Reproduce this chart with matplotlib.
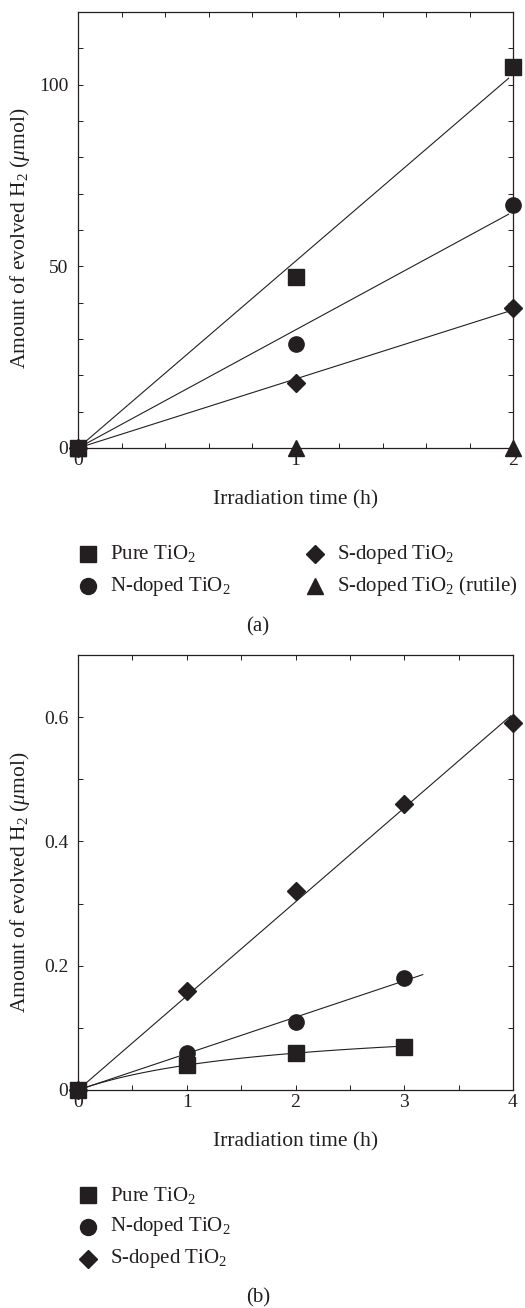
import numpy as np
import matplotlib
matplotlib.use("Agg")
import matplotlib.pyplot as plt
from matplotlib.lines import Line2D
from matplotlib.ticker import MultipleLocator

plt.rcParams['font.family'] = ['Liberation Serif', 'DejaVu Serif']
plt.rcParams['mathtext.fontset'] = 'custom'
plt.rcParams['mathtext.rm'] = 'Liberation Serif'
plt.rcParams['mathtext.it'] = 'Liberation Serif:italic'

# ---------------- data: panel (a) ----------------
time_a = [0, 1, 2]
pure_a = [0, 47, 105]
ndoped_a = [0, 28.5, 67]
sdoped_a = [0, 18, 38.5]
rutile_a = [0, 0, 0]

# ---------------- data: panel (b) ----------------
time_b = [0, 1, 2, 3, 4]
sdoped_b = [0, 0.16, 0.32, 0.46, 0.59]
time_b3 = [0, 1, 2, 3]
ndoped_b = [0, 0.06, 0.11, 0.18]
pure_b = [0, 0.04, 0.06, 0.07]

labels_a = ['Pure TiO$_2$', 'N-doped TiO$_2$', 'S-doped TiO$_2$', 'S-doped TiO$_2$ (rutile)']
labels_b = ['Pure TiO$_2$', 'N-doped TiO$_2$', 'S-doped TiO$_2$']
panel_tags = ['(a)', '(b)']

C = '#231f20'
W, H = 525, 1308
fig = plt.figure(figsize=(W / 100, H / 100), dpi=100)

TICK_FS = 14
LABEL_FS = 15.5
LEG_FS = 15


def fx(px):
    return px / W


def fy(py):
    return 1 - py / H


def origin_slope(x, y):
    x = np.asarray(x, float)
    y = np.asarray(y, float)
    return np.sum(x * y) / np.sum(x * x)


def style_axes(ax, xmaj, xmin, ymaj, ymin):
    ax.xaxis.set_major_locator(MultipleLocator(xmaj))
    ax.xaxis.set_minor_locator(MultipleLocator(xmin))
    ax.yaxis.set_major_locator(MultipleLocator(ymaj))
    ax.yaxis.set_minor_locator(MultipleLocator(ymin))
    ax.tick_params(which='both', direction='in', top=True, right=True,
                   length=3.6, width=0.7, color=C, labelsize=TICK_FS, labelcolor=C)
    ax.tick_params(axis='y', which='major', pad=7)
    ax.tick_params(axis='x', which='major', pad=3)
    for s in ax.spines.values():
        s.set_linewidth(0.9)
        s.set_color(C)


ms = dict(color=C, linestyle='none', clip_on=False, zorder=5)
YLAB = 'Amount of evolved H$_2$ ($\\mu$mol)'
XLAB = 'Irradiation time (h)'

# ---------------- panel (a) ----------------
axa = fig.add_axes([fx(78), fy(448), fx(513) - fx(78), fy(12) - fy(448)])
xs = np.linspace(0, 1.98, 50)
for ydata in (pure_a, ndoped_a, sdoped_a):
    k = origin_slope(time_a, ydata)
    axa.plot(xs, k * xs, color=C, lw=0.8, zorder=3)
axa.plot(time_a, rutile_a, marker='^', ms=11, **ms)
axa.plot(time_a, sdoped_a, marker='D', ms=9, **ms)
axa.plot(time_a, ndoped_a, marker='o', ms=11, **ms)
axa.plot(time_a, pure_a, marker='s', ms=11, **ms)
axa.set_xlim(0, 2)
axa.set_ylim(0, 120)
style_axes(axa, 1, 0.2, 50, 10)
axa.set_xlabel(XLAB, fontsize=LABEL_FS, color=C)
axa.set_ylabel(YLAB, fontsize=LABEL_FS, color=C)
axa.xaxis.set_label_coords(0.5, -0.098)
axa.yaxis.set_label_coords(-0.105, 0.482)

# legend (a)
leg_a = [('s', 11.5, 88, 554, 110, labels_a[0]),
         ('o', 11.5, 88, 586, 110, labels_a[1]),
         ('D', 9, 315, 554, 337, labels_a[2]),
         ('^', 11.5, 315, 586, 337, labels_a[3])]
for m, s, mx, my, tx, lab in leg_a:
    fig.add_artist(Line2D([fx(mx)], [fy(my)], marker=m, ms=s, color=C,
                          linestyle='none', transform=fig.transFigure))
    fig.text(fx(tx), fy(my), lab, fontsize=LEG_FS, color=C, va='center', ha='left')
fig.text(fx(258), fy(627), panel_tags[0], fontsize=LEG_FS, color=C, ha='center', va='center')

# ---------------- panel (b) ----------------
axb = fig.add_axes([fx(78), fy(1090), fx(513) - fx(78), fy(655) - fy(1090)])
ks = origin_slope(time_b, sdoped_b)
xs_s = np.linspace(0, 3.98, 50)
axb.plot(xs_s, ks * xs_s, color=C, lw=0.8, zorder=3)
kn = origin_slope(time_b3, ndoped_b)
xs_n = np.linspace(0, 3.17, 50)
axb.plot(xs_n, kn * xs_n, color=C, lw=0.8, zorder=3)
# saturating fit y = a x / (b + x) via linearisation on nonzero points
xp = np.asarray(time_b3[1:], float)
yp = np.asarray(pure_b[1:], float)
sl, ic = np.polyfit(1 / xp, 1 / yp, 1)
a_fit = 1 / ic
b_fit = sl * a_fit
xs_p = np.linspace(0, 3.0, 80)
axb.plot(xs_p, a_fit * xs_p / (b_fit + xs_p), color=C, lw=0.8, zorder=3)
axb.plot(time_b, sdoped_b, marker='D', ms=9, **ms)
axb.plot(time_b3, ndoped_b, marker='o', ms=11, **ms)
axb.plot(time_b3, pure_b, marker='s', ms=11, **ms)
axb.set_xlim(0, 4)
axb.set_ylim(0, 0.7)
style_axes(axb, 1, 0.5, 0.2, 0.1)
axb.yaxis.set_major_formatter(plt.FuncFormatter(lambda v, p: '0' if abs(v) < 1e-9 else f'{v:.1f}'))
axb.set_xlabel(XLAB, fontsize=LABEL_FS, color=C)
axb.set_ylabel(YLAB, fontsize=LABEL_FS, color=C)
axb.xaxis.set_label_coords(0.5, -0.097)
axb.yaxis.set_label_coords(-0.105, 0.478)

leg_b = [('s', 11.5, 88, 1195, 110, labels_b[0]),
         ('o', 11.5, 88, 1227, 110, labels_b[1]),
         ('D', 9, 88, 1259, 110, labels_b[2])]
for m, s, mx, my, tx, lab in leg_b:
    fig.add_artist(Line2D([fx(mx)], [fy(my)], marker=m, ms=s, color=C,
                          linestyle='none', transform=fig.transFigure))
    fig.text(fx(tx), fy(my), lab, fontsize=LEG_FS, color=C, va='center', ha='left')
fig.text(fx(258), fy(1298), panel_tags[1], fontsize=LEG_FS, color=C, ha='center', va='center')

fig.savefig('out.png', dpi=100)
